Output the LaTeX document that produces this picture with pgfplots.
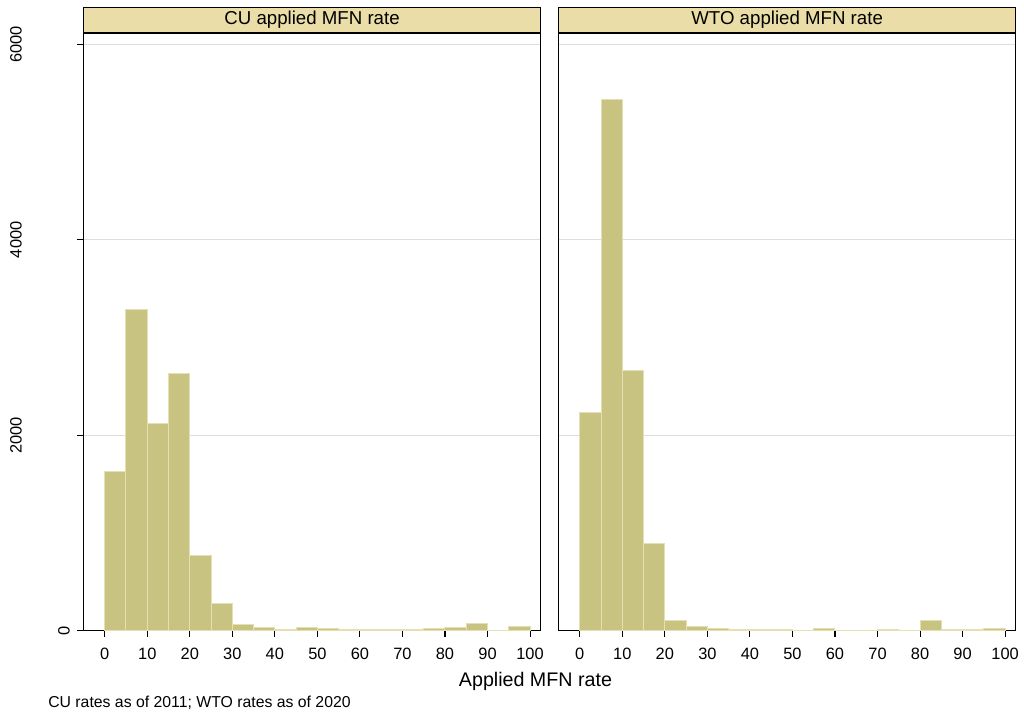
\documentclass[border=0pt]{standalone}
\usepackage{fontspec}
\setmainfont{Liberation Sans}
\usepackage{pgfplots}
\pgfplotsset{compat=1.18}
\definecolor{barfill}{RGB}{201,195,129}
\definecolor{baredge}{RGB}{228,224,180}
\definecolor{stripcol}{RGB}{234,221,167}
\definecolor{gridcol}{RGB}{222,222,222}
\tikzset{
  strip/.style={anchor=south, draw=black, fill=stripcol,
      line width=1pt, minimum width=342.9pt, minimum height=18.75pt, inner sep=0pt,
      font=\fontsize{14}{16}\selectfont},
}
\pgfplotsset{
  panel/.style={
    scale only axis, width=342.9pt, height=448pt,
    xmin=-5, xmax=102.5, ymin=0, ymax=6113,
    axis line style={black, line width=1pt},
    xtick={0,10,...,100},
    xtick pos=bottom, ytick pos=left,
    tick align=outside, major tick length=4.5pt,
    tick style={black, line width=0.8pt},
    ytick={2000,4000,6000},
    ymajorgrids, grid style={gridcol, line width=0.75pt},
    /pgf/number format/assume math mode=true,
    /pgf/number format/1000 sep={},
    ticklabel style={font=\fontsize{12.3}{14}\selectfont},
    xticklabel style={inner sep=0pt, yshift=-8.5pt},
    clip=false,
  },
  bars/.style={ybar interval, fill=barfill, draw=baredge, line width=0.75pt},
}
\begin{document}
\begin{tikzpicture}
\path[use as bounding box] (0,0) rectangle (768pt,537pt);
\begin{axis}[panel, at={(62.6pt,64pt)}, anchor=south west,
  yticklabel style={xshift=-41.6pt, rotate=90, anchor=south, inner sep=0pt},
  extra y ticks={0},
  extra y tick style={grid=none, yticklabel style={yshift=-36pt}},
]
\addplot[bars] coordinates {
(0,1624) (5,3285) (10,2116) (15,2629) (20,773) (25,274) (30,58) (35,31)
(40,14) (45,31) (50,17) (55,7) (60,14) (65,7) (70,7) (75,17) (80,31)
(85,72) (90,3) (95,44) (100,0)};
\node[strip] at (rel axis cs:0.5,1) {CU applied MFN rate};
\end{axis}
\begin{axis}[panel, at={(418.9pt,64pt)}, anchor=south west,
  yticklabels={}, ytick style={draw=none},
]
\addplot[bars] coordinates {
(0,2231) (5,5440) (10,2667) (15,890) (20,103) (25,38) (30,17) (35,7)
(40,7) (45,7) (50,3) (55,17) (60,2) (65,2) (70,10) (75,2) (80,103)
(85,7) (90,7) (95,17) (100,0)};
\node[strip] at (rel axis cs:0.5,1) {WTO applied MFN rate};
\end{axis}
\node[anchor=base, font=\fontsize{14.75}{17}\selectfont, inner sep=0pt] at (401.6pt,21.75pt) {Applied MFN rate};
\node[anchor=base west, font=\fontsize{11.85}{14}\selectfont, inner sep=0pt] at (36pt,6pt) {CU rates as of 2011; WTO rates as of 2020};
\end{tikzpicture}
\end{document}
